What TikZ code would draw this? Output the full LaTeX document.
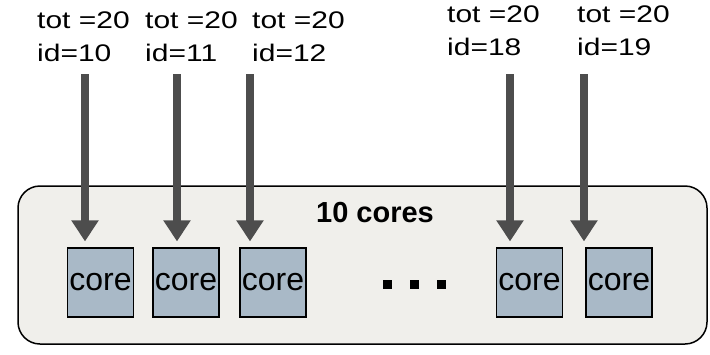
\documentclass[tikz,border=0pt]{standalone}
\usepackage{fontspec}
\setmainfont{Liberation Sans}
\newfontfamily\lblfont{Liberation Sans}[FakeStretch=1.25]
\usetikzlibrary{arrows.meta}
\definecolor{chipfill}{HTML}{F0EFEB}
\definecolor{corefill}{HTML}{A9B9C7}
\definecolor{arrowgray}{HTML}{4D4D4D}
\tikzset{
  chip/.style={draw=black, line width=1.5pt, fill=chipfill, rounded corners=22pt},
  corebox/.style={draw=black, line width=1.2pt, fill=corefill, minimum width=66pt,
    minimum height=69pt, inner sep=0pt, font=\fontsize{32}{38}\selectfont},
  idlabel/.style={anchor=north west, inner sep=0pt, align=left,
    font=\lblfont\fontsize{24}{33}\selectfont},
  feed/.style={draw=arrowgray, line width=8pt, -{Triangle[width=26pt,length=21pt]},
    shorten >=6pt},
  chiptitle/.style={inner sep=0pt, font=\bfseries\fontsize{29}{34}\selectfont}
}
\begin{document}
\begin{tikzpicture}[x=1pt, y=-1pt]
  \useasboundingbox (0,0) rectangle (710,354);
  \fill[white] (0,0) rectangle (710,354);

  % the chip
  \draw[chip] (18,186) rectangle (707,344);
  \node[chiptitle] (title) at (375,213) {10 cores};

  % cores
  \node[corebox] (c1) at (100.5,282.5) {core};
  \node[corebox] (c2) at (186,282.5) {core};
  \node[corebox] (c3) at (273,282.5) {core};
  \node[corebox] (c4) at (529.5,282.5) {core};
  \node[corebox] (c5) at (619,282.5) {core};

  % ellipsis between the cores
  \fill[black] (383,280) rectangle +(9,9);
  \fill[black] (410,280) rectangle +(9,9);
  \fill[black] (437,280) rectangle +(9,9);

  % thread labels
  \node[idlabel] (l1) at (37,12) {tot =20\\id=10};
  \node[idlabel] (l2) at (145,12) {tot =20\\id=11};
  \node[idlabel] (l3) at (252,12) {tot =20\\id=12};
  \node[idlabel] (l4) at (447,6) {tot =20\\id=18};
  \node[idlabel] (l5) at (577,6) {tot =20\\id=19};

  % arrow starts
  \coordinate (a1) at (85,74);
  \coordinate (a2) at (177,74);
  \coordinate (a3) at (250,74);
  \coordinate (a4) at (510,74);
  \coordinate (a5) at (584,74);

  \draw[feed] (a1) -- (a1 |- c1.north);
  \draw[feed] (a2) -- (a2 |- c2.north);
  \draw[feed] (a3) -- (a3 |- c3.north);
  \draw[feed] (a4) -- (a4 |- c4.north);
  \draw[feed] (a5) -- (a5 |- c5.north);
\end{tikzpicture}
\end{document}
